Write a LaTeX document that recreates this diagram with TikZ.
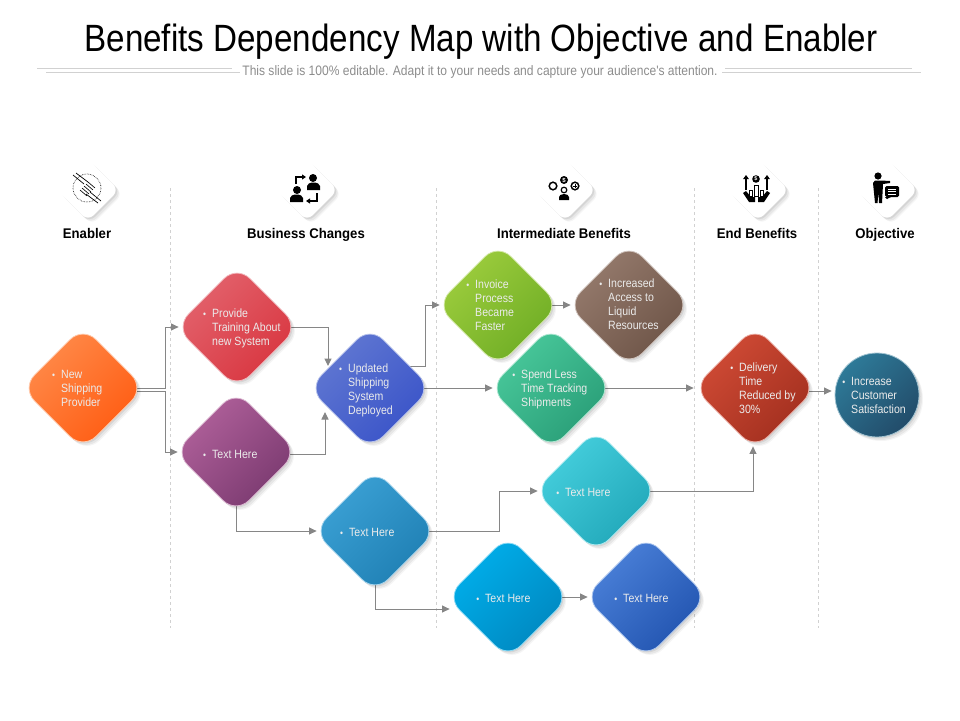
\documentclass[tikz,border=0pt]{standalone}
\usepackage{fontspec}
\setmainfont{Liberation Sans}
\newfontfamily\TitleFont[FakeStretch=0.873]{Liberation Sans}
\newfontfamily\HeadFont[FakeStretch=0.94]{Liberation Sans}
\newfontfamily\NoteFont[FakeStretch=0.88]{Liberation Sans}
\usetikzlibrary{arrows.meta,shapes.geometric,shadows,backgrounds}
\newcommand{\Bul}{\llap{\scalebox{0.8}{\textbullet}\hspace{6pt}}}
\tikzset{
	softshade/.style={
		drop shadow={shadow xshift=4pt,shadow yshift=-4pt,fill=black,opacity=.04},
		drop shadow={shadow xshift=3pt,shadow yshift=-3pt,fill=black,opacity=.06},
		drop shadow={shadow xshift=1.5pt,shadow yshift=-1.5pt,fill=black,opacity=.08}
	},
	dia/.style 2 args={diamond,aspect=1,minimum size=123pt,inner sep=0pt,rounded corners=18pt,
		softshade,draw=#1!45!white,line width=.8pt,top color=#1,bottom color=#2,shading angle=45},
	note/.style={anchor=west,inner sep=0pt,align=left,text=white!92!black,yshift=-1.5pt,
		font=\NoteFont\fontsize{12}{14}\selectfont},
	heading/.style={anchor=base,font=\HeadFont\bfseries\fontsize{14}{16}\selectfont,inner sep=0pt},
	iconbox/.style={diamond,aspect=1,minimum size=62pt,inner sep=0pt,rounded corners=8pt,
		softshade,fill=white},
	conn/.style={draw=ArrowGray,line width=1pt,-{Triangle[length=7.5pt,width=7pt]},shorten >=-3.5pt},
	guide/.style={draw=black!18,line width=.6pt,dashed},
	rule/.style={draw=black!18,line width=.8pt}
}
\definecolor{ArrowGray}{HTML}{868686}
\definecolor{OrangeA}{HTML}{FF8C4C}\definecolor{OrangeB}{HTML}{FF5A10}
\definecolor{RedA}{HTML}{E3646E}\definecolor{RedB}{HTML}{D8343E}
\definecolor{PurpleA}{HTML}{B2629C}\definecolor{PurpleB}{HTML}{78386E}
\definecolor{BlueA}{HTML}{6279D2}\definecolor{BlueB}{HTML}{3852C8}
\definecolor{GreenA}{HTML}{9FCE3E}\definecolor{GreenB}{HTML}{6DAC24}
\definecolor{BrownA}{HTML}{977C6E}\definecolor{BrownB}{HTML}{6C5346}
\definecolor{TealA}{HTML}{4ACA9C}\definecolor{TealB}{HTML}{289C76}
\definecolor{CyanA}{HTML}{46D0DE}\definecolor{CyanB}{HTML}{20A6B8}
\definecolor{BrickA}{HTML}{D24C36}\definecolor{BrickB}{HTML}{A02E1E}
\definecolor{OceanA}{HTML}{3CA2D6}\definecolor{OceanB}{HTML}{1E7EB2}
\definecolor{SkyA}{HTML}{00B0EC}\definecolor{SkyB}{HTML}{0086BE}
\definecolor{RoyalA}{HTML}{4C82DA}\definecolor{RoyalB}{HTML}{2052AE}
\definecolor{PetrolA}{HTML}{2E7A98}\definecolor{PetrolB}{HTML}{224C6A}
\begin{document}
\begin{tikzpicture}[x=1pt,y=-1pt]
	\useasboundingbox (0,0) rectangle (960,720);
	
	% TITLE
	\node[anchor=base,inner sep=0pt,font=\TitleFont\fontsize{38}{40}\selectfont] (Title) at (481,51.5) {Benefits Dependency Map with Objective and Enabler};
	\node[anchor=base,inner sep=0pt,text=black!45,font=\NoteFont\fontsize{13.7}{14}\selectfont] (SubTitle) at (480,75) {This slide is 100\% editable. Adapt it to your needs and capture your audience's attention.};
	\draw[rule] (37,68.5) -- (232,68.5);
	\draw[rule] (46,72) -- (240,72);
	\draw[rule] (725,68.5) -- (912,68.5);
	\draw[rule] (722,72) -- (921,72);
	
	% ICONS
	\node[iconbox] (EnablerIcon) at (88,190) {};
	\node[iconbox] (ChangesIcon) at (307,190) {};
	\node[iconbox] (InterIcon) at (565,190) {};
	\node[iconbox] (EndIcon) at (758,190) {};
	\node[iconbox] (ObjectiveIcon) at (887,190) {};
	
	% HEADINGS
	\node[heading] (EnablerHead) at (87,238) {Enabler};
	\node[heading] (ChangesHead) at (306,238) {Business Changes};
	\node[heading] (InterHead) at (564,238) {Intermediate Benefits};
	\node[heading] (EndHead) at (757,238) {End Benefits};
	\node[heading] (ObjectiveHead) at (885,238) {Objective};
	
	% ENABLER ICON GLYPH
	\draw[densely dotted,line width=.6pt] (87,188) circle (14);
	\draw[line width=.7pt] (73,175) -- (84,184) (76,173) -- (88,182) (101,201) -- (90,192) (98,203) -- (86,194);
	\foreach \Off in {0,2,4,6,8}
		\draw[line width=.6pt] (80+\Off,190-\Off) -- (87+\Off,196-\Off);
	
	% CHANGES ICON GLYPH
	\fill (313,178) circle (4);
	\fill (307,190) -- (307,186) arc[start angle=180,end angle=360,x radius=6.5,y radius=3.5] -- (320,190) -- cycle;
	\fill (297,190) circle (4);
	\fill (290,202) -- (290,198) arc[start angle=180,end angle=360,x radius=6.5,y radius=3.5] -- (303,202) -- cycle;
	\draw[line width=1.4pt,-{Triangle[length=4pt,width=5pt]}] (296,184) -- (296,177) -- (306,177);
	\draw[line width=1.4pt,-{Triangle[length=4pt,width=5pt]}] (317,193) -- (317,201) -- (306,201);
	
	% INTERMEDIATE ICON GLYPH
	\draw[line width=1.5pt] (553,186) circle (3.8);
	\draw[line width=1.5pt] (575,186) circle (3.8);
	\draw[line width=.9pt] (573,186) -- (577,186) (575,184) -- (575,188);
	\fill (564,180) circle (4);
	\node[text=white,inner sep=0pt,font=\bfseries\fontsize{6}{6}\selectfont] (DollarA) at (564,180) {\$};
	\draw[line width=1.2pt] (564,190) circle (2.8);
	\fill (559,200) -- (559,197) arc[start angle=180,end angle=360,x radius=5,y radius=3] -- (569,200) -- cycle;
	
	% END ICON GLYPH
	\draw[line width=1.4pt,-{Triangle[length=4pt,width=5.5pt]}] (746,190) -- (746,175);
	\draw[line width=1.4pt,-{Triangle[length=4pt,width=5.5pt]}] (767,190) -- (767,175);
	\fill (756,179) circle (3.8);
	\node[text=white,inner sep=0pt,font=\bfseries\fontsize{5.5}{6}\selectfont] (DollarB) at (756,179) {\$};
	\draw[line width=.7pt] (752,196) rectangle (749,190) (754,196) rectangle (758,185) (760,196) rectangle (763,190);
	\fill (743,193) -- (746,191) -- (751,197) -- (755,197) -- (755,202) -- (749,202) -- cycle;
	\fill (770,193) -- (767,191) -- (762,197) -- (758,197) -- (758,202) -- (764,202) -- cycle;
	
	% OBJECTIVE ICON GLYPH
	\fill (878,176) circle (3.6);
	\fill (873,183) -- (875,180.5) -- (881,180.5) -- (890,181) -- (890,183) -- (883,184) -- (882,203) -- (879,203) -- (878.5,192) -- (877.5,203) -- (875,203) -- cycle;
	\fill[rounded corners=1.5pt] (885,186) -- (899,186) -- (899,197) -- (890,197) -- (886,200) -- (886.5,197) -- (885,197) -- cycle;
	\foreach \Row in {189,191.5,194}
		\draw[white,line width=.7pt] (888,\Row) -- (896,\Row);
	
	% DIAMONDS
	\node[dia={OrangeA}{OrangeB}] (Provider) at (83,388) {};
	\node[dia={RedA}{RedB}] (Training) at (237,327) {};
	\node[dia={PurpleA}{PurpleB}] (ChangeTwo) at (236,452) {};
	\node[dia={BlueA}{BlueB}] (Deployed) at (370,388) {};
	\node[dia={OceanA}{OceanB}] (ChangeThree) at (375,531) {};
	\node[dia={GreenA}{GreenB}] (Invoice) at (498,305) {};
	\node[dia={BrownA}{BrownB}] (Access) at (629,305) {};
	\node[dia={TealA}{TealB}] (Tracking) at (551,388) {};
	\node[dia={CyanA}{CyanB}] (InterTwo) at (596,491) {};
	\node[dia={SkyA}{SkyB}] (InterThree) at (508,597) {};
	\node[dia={RoyalA}{RoyalB}] (InterFour) at (646,597) {};
	\node[dia={BrickA}{BrickB}] (Delivery) at (755,388) {};
	\node[circle,minimum size=84pt,inner sep=0pt,softshade,draw=PetrolA!45!white,line width=.8pt,top color=PetrolA,bottom color=PetrolB,shading angle=45] (Satisfaction) at (877,395) {};
	
	% TEXTS
	\node[note] (ProviderText) at (61,387) {\Bul New\\Shipping\\Provider};
	\node[note] (TrainingText) at (212,327) {\Bul Provide\\Training About\\new System};
	\node[note] (ChangeTwoText) at (212,453) {\Bul Text Here};
	\node[note] (DeployedText) at (348,389) {\Bul Updated\\Shipping\\System\\Deployed};
	\node[note] (ChangeThreeText) at (349,531) {\Bul Text Here};
	\node[note] (InvoiceText) at (475,304) {\Bul Invoice\\Process\\Became\\Faster};
	\node[note] (AccessText) at (608,302.5) {\Bul Increased\\Access to\\Liquid\\Resources};
	\node[note] (TrackingText) at (521,388) {\Bul Spend Less\\Time Tracking\\Shipments};
	\node[note] (InterTwoText) at (565,491) {\Bul Text Here};
	\node[note] (InterThreeText) at (485,597) {\Bul Text Here};
	\node[note] (InterFourText) at (623,597) {\Bul Text Here};
	\node[note] (DeliveryText) at (739,386.5) {\Bul Delivery\\Time\\Reduced by\\30\%};
	\node[note] (SatisfactionText) at (851,394) {\Bul Increase\\Customer\\Satisfaction};
	
	% FREE ARROW ENDS
	\coordinate (DeployedTop) at (328,366);
	\coordinate (DeployedLow) at (325,412);
	
	\begin{scope}[on background layer]
		% COLUMN GUIDES
		\foreach \GuideX in {170,436,694,818}
			\draw[guide] (\GuideX,188) -- (\GuideX,628);
		
		% CONNECTORS
		\draw[conn] (Provider.center) -- ++(82,0) |- (Training.west);
		\draw[conn] ([yshift=-3pt]Provider.center) -- ++(82,0) |- (ChangeTwo.west);
		\draw[conn,shorten >=0pt] (Training.center) -| (DeployedTop);
		\draw[conn,shorten >=0pt] ([yshift=-2pt]ChangeTwo.center) -| (DeployedLow);
		\draw[conn] (ChangeTwo.center) |- (ChangeThree.west);
		\draw[conn] ([yshift=22pt]Deployed.center) -- ++(55,0) |- (Invoice.west);
		\draw[conn] (Deployed.center) -- (Tracking.west);
		\draw[conn] (Invoice.center) -- (Access.west);
		\draw[conn,shorten >=-.5pt] (Tracking.center) -- (Delivery.west);
		\draw[conn] (ChangeThree.center) -- ++(124,0) |- (InterTwo.west);
		\draw[conn] (ChangeThree.center) |- ([yshift=-12pt]InterThree.west);
		\draw[conn] (InterThree.center) -- (InterFour.west);
		\draw[conn] (InterTwo.center) -| ([xshift=-2pt]Delivery.south);
		\draw[conn,shorten >=3pt] ([yshift=-3pt]Delivery.center) -- ([yshift=4pt]Satisfaction.west);
	\end{scope}
\end{tikzpicture}
\end{document}
